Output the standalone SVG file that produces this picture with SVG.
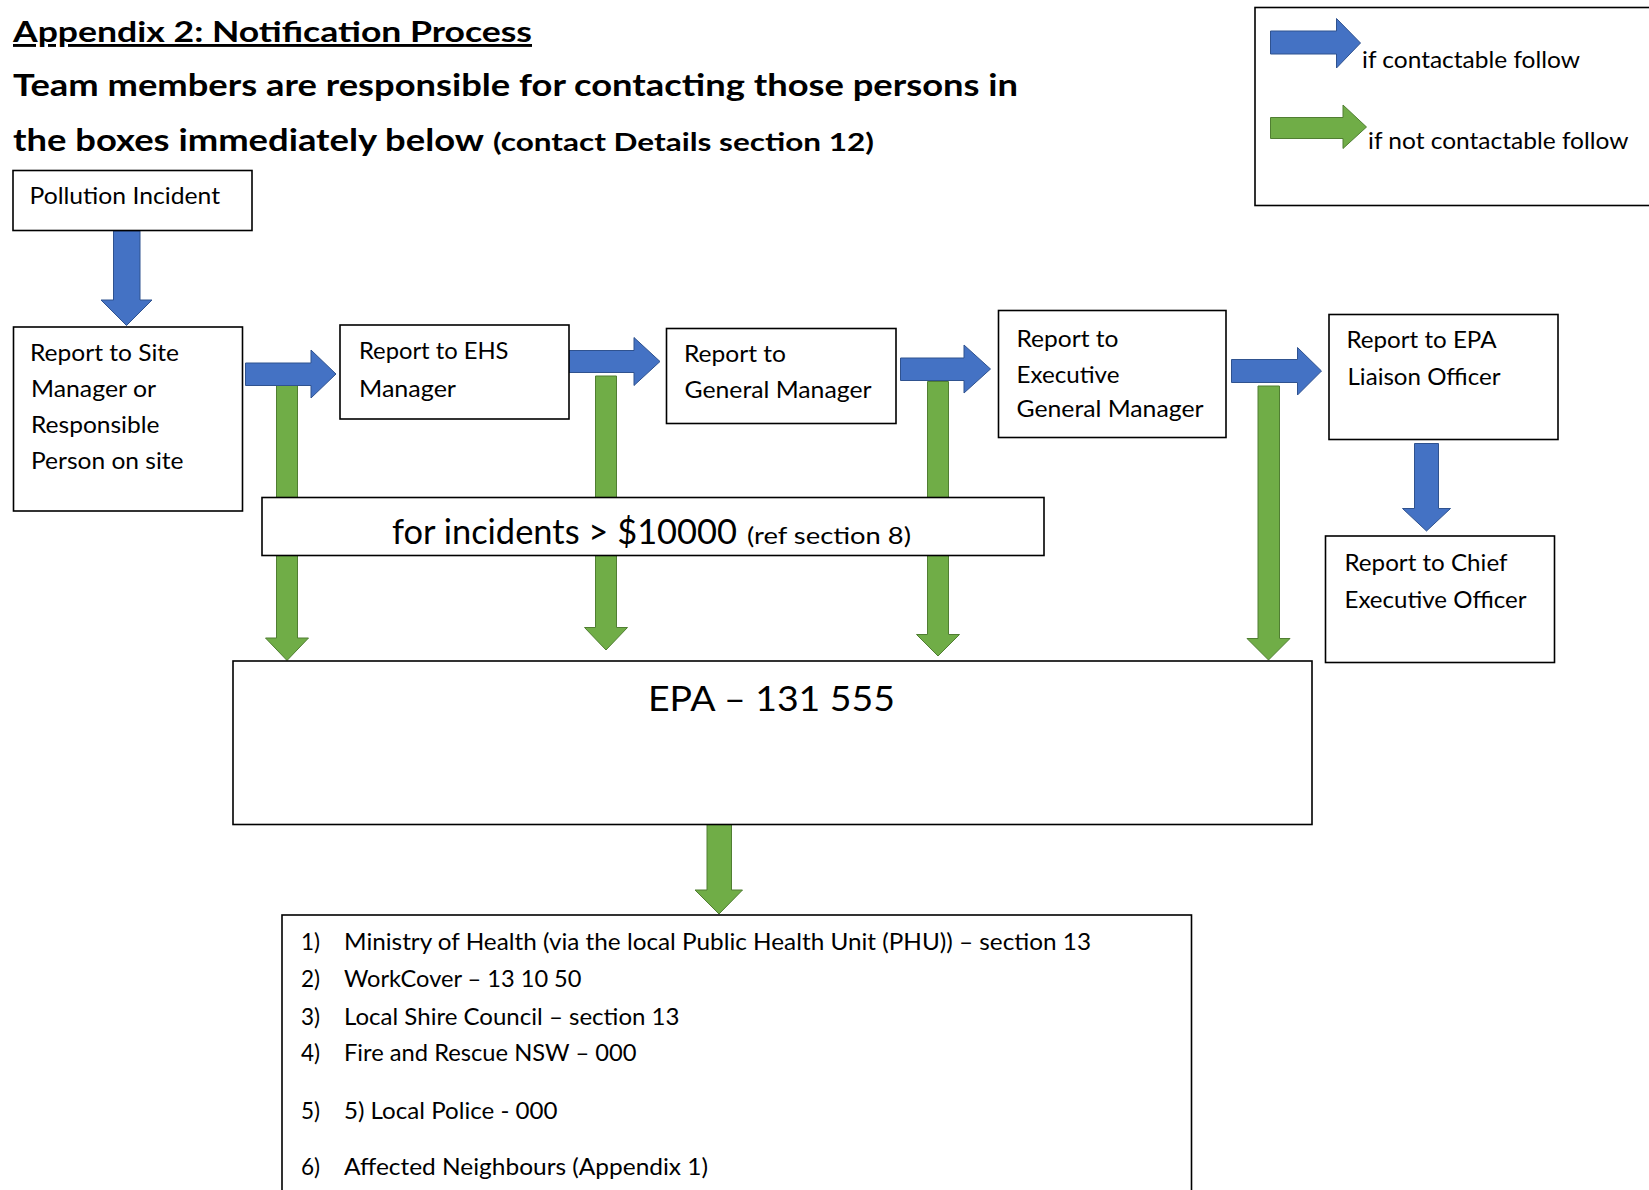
<svg xmlns="http://www.w3.org/2000/svg" width="1649" height="1190" viewBox="0 0 1649 1190">
<style>
.bg{fill:#fff}
.box{fill:#fff;stroke:#000;stroke-width:1.6}
.t{font-family:Lato,"Liberation Sans",sans-serif;fill:#000;font-size:22.5px}
.big{font-size:34.5px}
.epa{font-size:35px}
.hd{font-family:Lato,"Liberation Sans",sans-serif;fill:#000;font-weight:bold}
.blue{fill:#4472C4;stroke:#2F528F;stroke-width:1}
.green{fill:#70AD47;stroke:#507E32;stroke-width:1}
</style>
<rect class="bg" x="0" y="0" width="1649" height="1190"/>

<g id="heading">
<text class="hd" x="13" y="42" font-size="29" textLength="519" lengthAdjust="spacingAndGlyphs" text-decoration="underline">Appendix 2: Notification Process</text>
<text class="hd" x="13" y="95.5" font-size="30" textLength="1005" lengthAdjust="spacingAndGlyphs">Team members are responsible for contacting those persons in</text>
<text class="hd" x="13" y="151" font-size="30" textLength="471" lengthAdjust="spacingAndGlyphs">the boxes immediately below</text>
<text class="hd" x="493" y="151" font-size="24" textLength="381" lengthAdjust="spacingAndGlyphs">(contact Details section 12)</text>
</g>

<g id="legend">
<rect class="box" x="1255" y="7.5" width="420" height="198"/>
<polygon class="blue" points="1270.5,31 1336.5,31 1336.5,18.5 1360.5,43 1336.5,68 1336.5,54 1270.5,54"/>
<text class="t" x="1362" y="67.5" textLength="218" lengthAdjust="spacingAndGlyphs">if contactable follow</text>
<polygon class="green" points="1270.5,117.5 1343,117.5 1343,105 1366.5,127 1343,148.5 1343,138.5 1270.5,138.5"/>
<text class="t" x="1368" y="149" textLength="260.5" lengthAdjust="spacingAndGlyphs">if not contactable follow</text>
</g>

<g id="connectors">
<!-- green: not contactable -->
<polygon class="green" points="276.5,385 297.5,385 297.5,638 308.5,638 287,660.5 265.5,638 276.5,638"/>
<polygon class="green" points="595.5,376 616.5,376 616.5,627.5 627.5,627.5 606,650 584.5,627.5 595.5,627.5"/>
<polygon class="green" points="927.5,381.5 948.5,381.5 948.5,634.5 959.5,634.5 938,656 916.5,634.5 927.5,634.5"/>
<polygon class="green" points="1258,386 1279.5,386 1279.5,638.5 1290,638.5 1268.5,660 1247,638.5 1258,638.5"/>
<polygon class="green" points="707,824.5 731.5,824.5 731.5,890 742.5,890 719,914 695,890 707,890"/>
<!-- blue: contactable -->
<polygon class="blue" points="113.5,231 140,231 140,300 152,300 126.5,325.5 101,300 113.5,300"/>
<polygon class="blue" points="245.5,363 311,363 311,350 336,374 311,398 311,385.5 245.5,385.5"/>
<polygon class="blue" points="569,350.5 634,350.5 634,337.5 660,361.5 634,385.5 634,372.5 569,372.5"/>
<polygon class="blue" points="900.5,358 964,358 964,345 990.5,369 964,393 964,380.5 900.5,380.5"/>
<polygon class="blue" points="1231.5,359.5 1297.5,359.5 1297.5,347.5 1321.5,371 1297.5,395 1297.5,382.5 1231.5,382.5"/>
<polygon class="blue" points="1414.5,443.5 1438.5,443.5 1438.5,508.5 1450.5,508.5 1426.5,531 1402.5,508.5 1414.5,508.5"/>
</g>

<g id="pollution-incident">
<rect class="box" x="13" y="170.5" width="239" height="60"/>
<text class="t" x="29.5" y="204" textLength="190.5" lengthAdjust="spacingAndGlyphs">Pollution Incident</text>
</g>

<g id="site-manager">
<rect class="box" x="13.5" y="327" width="229" height="184"/>
<text class="t" x="30" y="360.5" textLength="149" lengthAdjust="spacingAndGlyphs">Report to Site</text>
<text class="t" x="31" y="396.5" textLength="125" lengthAdjust="spacingAndGlyphs">Manager or</text>
<text class="t" x="31" y="432.5" textLength="128.5" lengthAdjust="spacingAndGlyphs">Responsible</text>
<text class="t" x="31" y="469" textLength="152.5" lengthAdjust="spacingAndGlyphs">Person on site</text>
</g>

<g id="ehs-manager">
<rect class="box" x="340" y="325" width="229" height="94"/>
<text class="t" x="359" y="359" textLength="149.5" lengthAdjust="spacingAndGlyphs">Report to EHS</text>
<text class="t" x="359" y="396.5" textLength="97" lengthAdjust="spacingAndGlyphs">Manager</text>
</g>

<g id="general-manager">
<rect class="box" x="666.5" y="328.5" width="229.5" height="95"/>
<text class="t" x="684" y="362" textLength="102" lengthAdjust="spacingAndGlyphs">Report to</text>
<text class="t" x="684.5" y="398" textLength="187" lengthAdjust="spacingAndGlyphs">General Manager</text>
</g>

<g id="executive-general-manager">
<rect class="box" x="998.5" y="310.5" width="227.5" height="127"/>
<text class="t" x="1016.5" y="346.5" textLength="102" lengthAdjust="spacingAndGlyphs">Report to</text>
<text class="t" x="1016.5" y="382.5" textLength="103" lengthAdjust="spacingAndGlyphs">Executive</text>
<text class="t" x="1016.5" y="416.5" textLength="187" lengthAdjust="spacingAndGlyphs">General Manager</text>
</g>

<g id="epa-liaison-officer">
<rect class="box" x="1329" y="314.5" width="229" height="125"/>
<text class="t" x="1346.5" y="348" textLength="150" lengthAdjust="spacingAndGlyphs">Report to EPA</text>
<text class="t" x="1347.5" y="384.5" textLength="153" lengthAdjust="spacingAndGlyphs">Liaison Officer</text>
</g>

<g id="chief-executive-officer">
<rect class="box" x="1325.5" y="536" width="229" height="126.5"/>
<text class="t" x="1344.5" y="571" textLength="163" lengthAdjust="spacingAndGlyphs">Report to Chief</text>
<text class="t" x="1344.5" y="607.5" textLength="182" lengthAdjust="spacingAndGlyphs">Executive Officer</text>
</g>

<g id="incidents-threshold">
<rect class="box" x="262" y="497.5" width="782" height="58"/>
<text class="t big" x="392" y="544" textLength="345" lengthAdjust="spacingAndGlyphs">for incidents &gt; $10000</text>
<text class="t" x="747" y="544" textLength="164" lengthAdjust="spacingAndGlyphs">(ref section 8)</text>
</g>

<g id="epa">
<rect class="box" x="233" y="661" width="1079" height="163.5"/>
<text class="t epa" x="648" y="711" textLength="247" lengthAdjust="spacingAndGlyphs">EPA – 131 555</text>
</g>

<g id="contact-list">
<rect class="box" x="282" y="915" width="909.5" height="300"/>
<text class="t" x="301" y="950">1)</text>
<text class="t" x="344" y="950" textLength="747" lengthAdjust="spacingAndGlyphs">Ministry of Health (via the local Public Health Unit (PHU)) – section 13</text>
<text class="t" x="301" y="987">2)</text>
<text class="t" x="344" y="987" textLength="237.5" lengthAdjust="spacingAndGlyphs">WorkCover – 13 10 50</text>
<text class="t" x="301" y="1025">3)</text>
<text class="t" x="344" y="1025" textLength="335.5" lengthAdjust="spacingAndGlyphs">Local Shire Council – section 13</text>
<text class="t" x="301" y="1061">4)</text>
<text class="t" x="344" y="1061" textLength="292.5" lengthAdjust="spacingAndGlyphs">Fire and Rescue NSW – 000</text>
<text class="t" x="301" y="1119">5)</text>
<text class="t" x="344" y="1119" textLength="213.5" lengthAdjust="spacingAndGlyphs">5) Local Police - 000</text>
<text class="t" x="301" y="1175">6)</text>
<text class="t" x="344" y="1175" textLength="364" lengthAdjust="spacingAndGlyphs">Affected Neighbours (Appendix 1)</text>
</g>
</svg>
